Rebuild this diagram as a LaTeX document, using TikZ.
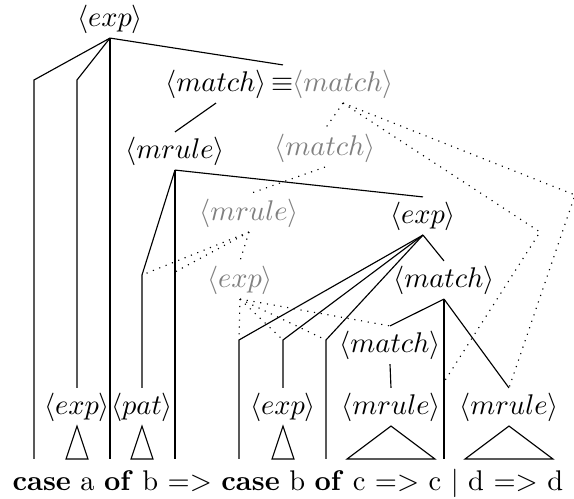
\documentclass[tikz,border=0pt]{standalone}
\usepackage{tikz}
\usepackage{xcolor}
\usepackage{amsmath}

\newdimen\px
\px = 0.3514pt

\begin{document}
\begin{tikzpicture}[x=\px,y={(0pt,-\px)},
    nt/.style={inner sep=1.5pt,text height=7.5pt,text depth=2.5pt},
    shared/.style={nt,text=gray},
    alt/.style={dotted}]
    \useasboundingbox (0,0) rectangle (574,499);
    % nonterminals
    \node[nt] (e0) at (110,19) {$\langle exp\rangle$};
    \node[nt] (m1) at (216,84) {$\langle match\rangle$};
    \node[nt] (eq) at (283,84) {$\equiv$};
    \node[shared] (m1g) at (343,84) {$\langle match\rangle$};
    \node[nt] (r1) at (175,151) {$\langle mrule\rangle$};
    \node[shared] (m2g) at (325,148) {$\langle match\rangle$};
    \node[shared] (r2g) at (249,213) {$\langle mrule\rangle$};
    \node[nt] (e1) at (423,216) {$\langle exp\rangle$};
    \node[shared] (e2g) at (240,280) {$\langle exp\rangle$};
    \node[nt] (m3) at (444,280) {$\langle match\rangle$};
    \node[nt] (m4) at (390,345) {$\langle match\rangle$};
    \node[nt] (lx) at (77,407) {$\langle exp\rangle$};
    \node[nt] (lp) at (142,407) {$\langle pat\rangle$};
    \node[nt] (ly) at (283,407) {$\langle exp\rangle$};
    \node[nt] (lr1) at (391,407) {$\langle mrule\rangle$};
    \node[nt] (lr2) at (509,407) {$\langle mrule\rangle$};
    \node[anchor=base west,inner sep=0pt] (s) at (12,491)
        {\textbf{case} a \textbf{of} b => \textbf{case} b \textbf{of} c => c | d => d};
    % bends
    \coordinate (foot) at (0,459);
    \coordinate (c1) at (34,80);
    \coordinate (c2) at (77,80);
    \coordinate (c3) at (142,275);
    \coordinate (c4) at (239,340);
    \coordinate (c5) at (283,340);
    \coordinate (c6) at (326,340);
    \coordinate (d1) at (540,232);
    \coordinate (d2) at (575,195);
    \coordinate (d3) at (444,382);
    \coordinate (d4) at (175,272);
    % tree
    \draw (e0.south) -- (c1) -- (c1 |- foot);
    \draw (e0.south) -- (c2) -- (lx.north);
    \draw (e0.south) -- (e0.south |- foot);
    \draw (e0.south) -- (eq.north);
    \draw (m1.south) -- (r1.north);
    \draw (r1.south) -- (c3) -- (lp.north);
    \draw (r1.south) -- (r1.south |- foot);
    \draw (r1.south) -- (e1.north);
    \draw (e1.south) -- (c4) -- (c4 |- foot);
    \draw (e1.south) -- (c5) -- (ly.north);
    \draw (e1.south) -- (c6) -- (c6 |- foot);
    \draw (e1.south) -- (m3.north);
    \draw (m3.south) -- (m4.north);
    \draw (m3.south) -- (m3.south |- foot);
    \draw (m3.south) -- (lr2.north);
    \draw (m4.south) -- (lr1.north);
    \foreach \n/\w in {lx/11,lp/11,ly/11,lr1/44,lr2/44} {
        \draw (\n.south) -- ++(-\w,33) -- ++(2*\w,0) -- cycle; }
    % shared alternative
    \draw[alt] (m1g.south) -- (m2g.north);
    \draw[alt] (m1g.south) -- (d1) -- (d3);
    \draw[alt] (m1g.south) -- (d2) -- (lr2.north);
    \draw[alt] (m2g.south) -- (r2g.north);
    \foreach \t in {c3,d4,e2g.north} { \draw[alt] (r2g.south) -- (\t); }
    \foreach \t in {c4,c5,c6,m4.north} { \draw[alt] (e2g.south) -- (\t); }
\end{tikzpicture}
\end{document}
